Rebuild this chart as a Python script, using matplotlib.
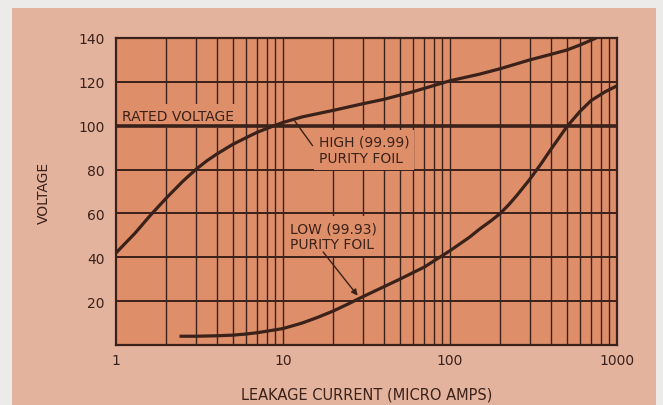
import matplotlib
matplotlib.use("Agg")
import matplotlib.pyplot as plt
from matplotlib.patches import Rectangle

# Leakage current (micro amps) vs. voltage for two foil purities
high_current = [1, 1.3, 1.6, 2, 2.5, 3, 3.5, 4, 5, 6, 7, 8.5, 10, 13, 20, 30,
                40, 60, 100, 150, 200, 300, 400, 500, 600, 750]
high_voltage = [42, 51, 59, 67, 74.5, 80, 84, 87, 91.5, 94.5, 97, 99.5, 101.5,
                104, 107, 110, 112, 115.5, 120.5, 123.5, 126, 130, 132.5,
                134.5, 136.8, 140]

low_current = [2.4, 3, 4, 5, 6, 7, 8, 10, 13, 16, 20, 25, 30, 40, 50, 70, 100,
               130, 150, 175, 200, 225, 250, 300, 350, 400, 450, 500, 600, 700,
               850, 1000]
low_voltage = [4, 4, 4.2, 4.5, 5, 5.6, 6.3, 7.5, 10, 12.5, 15.5, 19, 22, 26.5,
               30, 35.5, 43, 49, 52.8, 56.5, 60, 64, 68, 75.5, 82.5, 89, 94.5,
               99.5, 106.5, 111.5, 115.5, 118.2]

rated_voltage = 100
y_ticks = [20, 40, 60, 80, 100, 120, 140]
x_ticks = [1, 10, 100, 1000]
x_tick_labels = ["1", "10", "100", "1000"]

INK = "#3a211a"
PANEL = "#e4b39e"
PLOT_BG = "#de8f69"
OUTER = "#ecebea"

plt.rcParams["font.family"] = ["DejaVu Sans"]

fig = plt.figure(figsize=(6.63, 4.06), dpi=100, facecolor=OUTER)
fig.patches.append(Rectangle((12 / 663, 0), (656 - 12) / 663, (406 - 9) / 406,
                             transform=fig.transFigure, facecolor=PANEL,
                             edgecolor="none", zorder=-5))

ax = fig.add_axes([116 / 663, 60 / 406, 501 / 663, 307 / 406])
ax.set_zorder(1)
ax.set_facecolor(PLOT_BG)
ax.set_xscale("log")
ax.set_xlim(1, 1000)
ax.set_ylim(0, 140)

# log-paper grid
minor_x = [m * 10 ** k for k in range(3) for m in range(2, 10)]
for xv in minor_x + [10, 100]:
    ax.axvline(xv, color=INK, lw=1.0, zorder=0.6)
for yv in y_ticks[:-1]:
    if yv != rated_voltage:
        ax.axhline(yv, color=INK, lw=1.4, zorder=0.6)

ax.axhline(rated_voltage, color=INK, lw=2.6, zorder=3)
ax.plot(high_current, high_voltage, color=INK, lw=2.3, zorder=3,
        solid_capstyle="butt")
ax.plot(low_current, low_voltage, color=INK, lw=2.3, zorder=3,
        solid_capstyle="butt")

for s in ax.spines.values():
    s.set_color(INK)
    s.set_linewidth(1.6)

ax.set_xticks(x_ticks)
ax.set_xticklabels(x_tick_labels)
ax.xaxis.set_minor_locator(matplotlib.ticker.NullLocator())
ax.set_yticks(y_ticks)
ax.tick_params(length=0, labelsize=10, colors=INK, pad=8)
ax.tick_params(axis="x", pad=6)

ax.set_xlabel("LEAKAGE CURRENT (MICRO AMPS)", fontsize=10.5, color=INK,
              labelpad=14)
ax.set_ylabel("VOLTAGE", fontsize=10, color=INK, labelpad=20)

box = dict(boxstyle="square,pad=0.35", facecolor=PLOT_BG, edgecolor="none")
ax.text(1.09, 102.7, "RATED VOLTAGE", fontsize=10, color=INK, ha="left",
        va="baseline", bbox=box, zorder=2.5)
ax.text(16.4, 96, "HIGH (99.99)\nPURITY FOIL", fontsize=10, color=INK,
        ha="left", va="top", linespacing=1.2, bbox=box, zorder=2.5)
ax.text(11.0, 56.5, "LOW (99.93)\nPURITY FOIL", fontsize=10, color=INK,
        ha="left", va="top", linespacing=1.2, bbox=box, zorder=2.5)

ax.plot([11.8, 15.0], [102.0, 91.0], color=INK, lw=1.0, zorder=3)
ax.annotate("", xy=(28.0, 22.5), xytext=(17.4, 42.4),
            arrowprops=dict(arrowstyle="-|>", color=INK, lw=1.0,
                            mutation_scale=9, shrinkA=0, shrinkB=0),
            zorder=3)

fig.savefig("out.png", dpi=100, facecolor=OUTER)
